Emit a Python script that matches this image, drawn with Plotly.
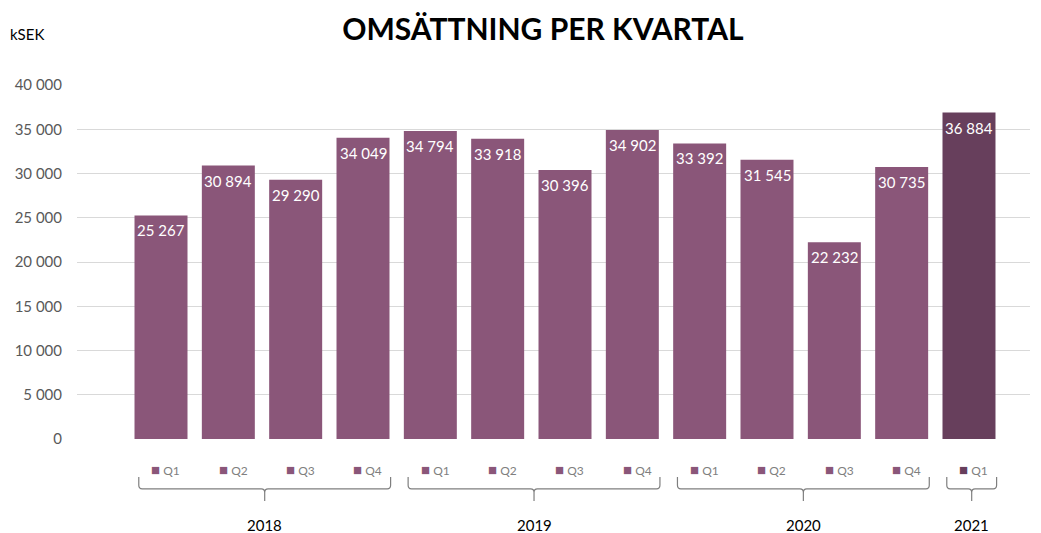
import plotly.graph_objects as go

quarters = ["Q1", "Q2", "Q3", "Q4", "Q1", "Q2", "Q3", "Q4", "Q1", "Q2", "Q3", "Q4", "Q1"]
years = ["2018", "2019", "2020", "2021"]
year_of_bar = ["2018"] * 4 + ["2019"] * 4 + ["2020"] * 4 + ["2021"]
values = [25267, 30894, 29290, 34049, 34794, 33918, 30396, 34902, 33392, 31545, 22232, 30735, 36884]

C_BAR = "#8A5679"
C_LAST = "#673F5C"
colors = [C_BAR] * 12 + [C_LAST]
FONT = "Lato"

x = list(range(len(values)))
labels = [f"{v:,}".replace(",", " ") for v in values]

fig = go.Figure()
fig.add_trace(go.Bar(
    x=x, y=values, marker_color=colors, marker_line_width=0,
    hoverinfo="skip",
))

# data labels inside top of bars
for i, (v, t) in enumerate(zip(values, labels)):
    fig.add_annotation(x=i, y=v, xref="x", yref="y", text=t, showarrow=False,
                       yshift=-15, xanchor="center", yanchor="middle",
                       font=dict(color="white", size=15, family=FONT))

# quarter labels under bars
for i, (q, c) in enumerate(zip(quarters, colors)):
    fig.add_annotation(
        x=i + 0.07, y=-0.085, xref="x", yref="paper", showarrow=False,
        text=f'<span style="color:{c};font-size:15px">■</span> {q}',
        font=dict(size=12, color="#7F7F7F", family=FONT),
        xanchor="center", yanchor="middle",
    )

# braces & year labels
shapes = []
for yr in years:
    idx = [i for i, y_ in enumerate(year_of_bar) if y_ == yr]
    x0 = idx[0] - 0.33
    x1 = idx[-1] + 0.41
    xc = (x0 + x1) / 2
    yt, yh, yb = -0.107, -0.141, -0.175
    r = 0.01
    dx = 0.05
    path = (f"M {x0},{yt} L {x0},{yh + r} Q {x0},{yh} {x0 + dx},{yh} "
            f"L {xc - dx},{yh} Q {xc},{yh} {xc},{yh - r} L {xc},{yb} "
            f"M {xc},{yh - r} Q {xc},{yh} {xc + dx},{yh} "
            f"L {x1 - dx},{yh} Q {x1},{yh} {x1},{yh + r} L {x1},{yt}")
    shapes.append(dict(type="path", xref="x", yref="paper", path=path,
                       line=dict(color="#7F7F7F", width=1.2)))
    fig.add_annotation(x=xc, y=-0.243, xref="x", yref="paper", showarrow=False,
                       text=yr, font=dict(size=15, color="#000000", family=FONT),
                       xanchor="center", yanchor="middle")

fig.add_annotation(xref="paper", yref="paper", x=-0.072, y=1.145, text="kSEK",
                   showarrow=False, font=dict(size=15, color="#000000", family=FONT),
                   xanchor="left", yanchor="middle")

fig.update_layout(
    title=dict(text="<b>OMSÄTTNING PER KVARTAL</b>", x=0.5215, xanchor="center",
               y=0.945, yanchor="middle",
               font=dict(size=30, color="#000000", family=FONT)),
    width=1041, height=533,
    margin=dict(l=77, r=11, t=85, b=94),
    paper_bgcolor="white", plot_bgcolor="white",
    separators=", ",
    bargap=0.213,
    showlegend=False,
    shapes=shapes,
    font=dict(family=FONT),
    xaxis=dict(range=[-1.2476, 12.906], showticklabels=False, showgrid=False,
               zeroline=False, showline=False, ticks=""),
    yaxis=dict(range=[0, 40000], dtick=5000, tickformat=",d",
               gridcolor="#D9D9D9", gridwidth=1, zeroline=False, showline=False,
               tickfont=dict(size=15, color="#595959", family=FONT),
               ticks="", ticklabelstandoff=14),
)

fig.write_html("out.html", config={"displayModeBar": False},
               post_script="document.body.style.margin='0';")
